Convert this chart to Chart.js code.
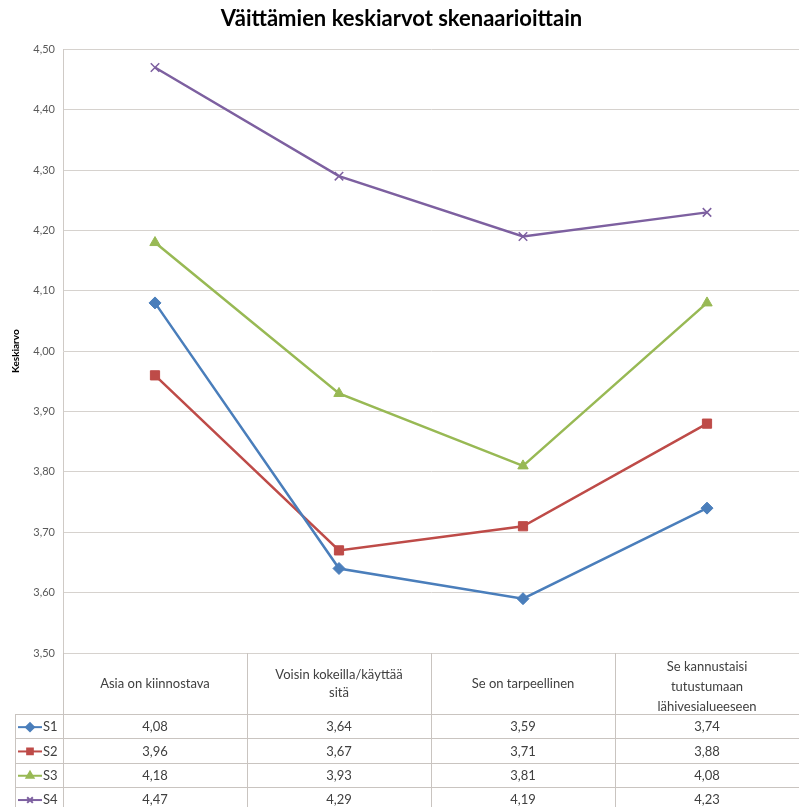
<!DOCTYPE html>
<html>
<head>
<meta charset="utf-8">
<script src="https://cdn.jsdelivr.net/npm/chart.js@4"></script>
<style>
  body { margin: 0; background: #fff; overflow: hidden; }
  #wrap { width: 799px; height: 807px; }
</style>
</head>
<body>
<div id="wrap"><canvas id="chart" width="799" height="807"></canvas></div>
<script>
const categories = [
    ['Asia on kiinnostava'],
    ['Voisin kokeilla/käyttää', 'sitä'],
    ['Se on tarpeellinen'],
    ['Se kannustaisi', 'tutustumaan', 'lähivesialueeseen']
];
const seriesNames = ['S1', 'S2', 'S3', 'S4'];
const s1 = [4.08, 3.64, 3.59, 3.74];
const s2 = [3.96, 3.67, 3.71, 3.88];
const s3 = [4.18, 3.93, 3.81, 4.08];
const s4 = [4.47, 4.29, 4.19, 4.23];
const colors = ['#4A7EBB', '#BE4B48', '#98B954', '#7D60A0'];
const markers = ['rectRot', 'rect', 'triangle', 'crossRot'];
const yMin = 3.5, yMax = 4.5, yStep = 0.1;

const fmt = v => v.toFixed(2).replace('.', ',');
const font = 'Lato, "Open Sans", sans-serif';

function makeSet(name, data, i) {
    return {
        label: name,
        data: data,
        borderColor: colors[i],
        backgroundColor: colors[i],
        borderWidth: 2.5,
        pointStyle: markers[i],
        pointRadius: markers[i] === 'rect' ? 6.5 : 6,
        pointBorderWidth: markers[i] === 'crossRot' ? 1.5 : 1,
        tension: 0
    };
}

// data table drawn under the plot, aligned to the x scale
const dataTable = {
    id: 'dataTable',
    afterDraw(chart) {
        const ctx = chart.ctx;
        const area = chart.chartArea;
        const x = chart.scales.x;
        const top = area.bottom;
        const headBottom = 714;
        const rowH = 24.3;
        const keyLeft = 15;
        const n = categories.length;
        const band = (area.right - area.left) / n;
        ctx.save();
        ctx.strokeStyle = '#c9c4c0';
        ctx.lineWidth = 1;
        // vertical lines
        for (let i = 0; i <= n; i++) {
            const vx = Math.round(area.left + band * i) + 0.5;
            ctx.beginPath();
            ctx.moveTo(vx, top);
            ctx.lineTo(vx, chart.height);
            ctx.stroke();
        }
        ctx.beginPath();
        ctx.moveTo(keyLeft + 0.5, headBottom);
        ctx.lineTo(keyLeft + 0.5, chart.height);
        ctx.stroke();
        // horizontal lines
        for (let r = 0; r < seriesNames.length; r++) {
            const hy = Math.round(headBottom + rowH * r) + 0.5;
            ctx.beginPath();
            ctx.moveTo(keyLeft, hy);
            ctx.lineTo(area.right, hy);
            ctx.stroke();
        }
        // header texts
        ctx.fillStyle = '#404040';
        ctx.textAlign = 'center';
        ctx.textBaseline = 'middle';
        ctx.font = '13px ' + font;
        categories.forEach((lines, i) => {
            const cx = x.getPixelForValue(i);
            const lh = lines.length > 2 ? 20 : 18;
            const cy = (top + headBottom) / 2 + (lines.length > 2 ? 3 : 0);
            lines.forEach((t, k) => {
                ctx.fillText(t, cx, cy + (k - (lines.length - 1) / 2) * lh);
            });
        });
        // rows
        const all = [s1, s2, s3, s4];
        all.forEach((vals, r) => {
            const cy = headBottom + rowH * r + rowH / 2 + 1;
            ctx.fillStyle = '#404040';
            ctx.textAlign = 'center';
            ctx.font = '13px ' + font;
            vals.forEach((v, i) => ctx.fillText(fmt(v), x.getPixelForValue(i), cy));
            // legend key
            ctx.strokeStyle = colors[r];
            ctx.fillStyle = colors[r];
            ctx.lineWidth = 2;
            ctx.beginPath();
            ctx.moveTo(keyLeft + 3, cy);
            ctx.lineTo(keyLeft + 27, cy);
            ctx.stroke();
            Chart.helpers.drawPoint(ctx, {
                pointStyle: markers[r], radius: 4, rotation: 0, borderWidth: 1
            }, keyLeft + 15, cy);
            ctx.fillStyle = '#404040';
            ctx.textAlign = 'left';
            ctx.fillText(seriesNames[r], keyLeft + 28, cy);
            ctx.strokeStyle = '#c9c4c0';
            ctx.lineWidth = 1;
        });
        ctx.restore();
    }
};

new Chart(document.getElementById('chart'), {
    type: 'line',
    data: {
        labels: categories,
        datasets: [
            makeSet('S1', s1, 0),
            makeSet('S2', s2, 1),
            makeSet('S3', s3, 2),
            makeSet('S4', s4, 3)
        ]
    },
    options: {
        responsive: false,
        animation: false,
        layout: { autoPadding: false, padding: { left: 0, right: -4, top: 0, bottom: 154 } },
        plugins: {
            legend: { display: false },
            tooltip: { enabled: false },
            title: {
                display: true,
                text: 'Väittämien keskiarvot skenaarioittain',
                color: '#000',
                font: { family: font, size: 22, weight: 'bold' },
                padding: { top: 6, bottom: 17 }
            }
        },
        scales: {
            x: {
                display: false,
                offset: true
            },
            y: {
                min: yMin,
                max: yMax,
                afterFit(scale) { scale.width = 63; },
                border: { display: true, color: '#cfcac6' },
                grid: { color: '#d6d2ce', drawTicks: false },
                ticks: {
                    stepSize: yStep,
                    padding: 8,
                    color: '#595959',
                    font: { family: font, size: 11 },
                    callback: v => fmt(v)
                },
                title: {
                    display: true,
                    text: 'Keskiarvo',
                    color: '#000',
                    font: { family: font, size: 10, weight: 'bold' },
                    padding: { top: 10, bottom: 0 }
                }
            }
        }
    },
    plugins: [dataTable]
});
</script>
</body>
</html>
